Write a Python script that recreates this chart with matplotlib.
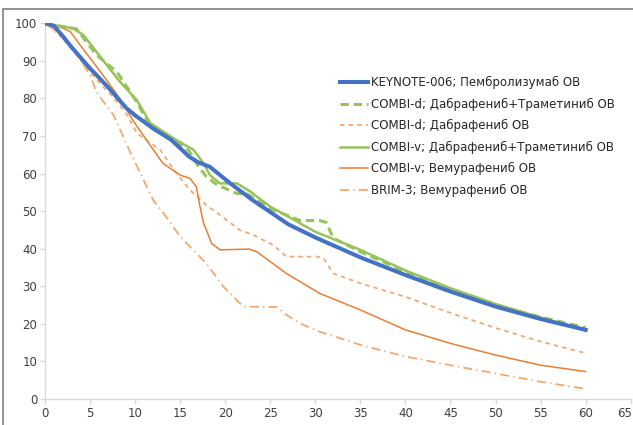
import matplotlib
matplotlib.use('Agg')
import matplotlib.pyplot as plt
import matplotlib.transforms as mtransforms
from matplotlib.patches import Rectangle

# KEYNOTE-006; Pembrolizumab OS
keynote_x = [0, 1, 2, 3, 5, 7, 9, 10, 12, 14, 16, 17, 18.3, 20.5, 23, 27, 30, 35, 40, 45, 50, 55, 60]
keynote_y = [100, 99.3, 96.5, 93.5, 88, 83, 77.5, 75.5, 72, 69, 64.5, 63, 61.8, 57.5, 53, 46.5, 43, 37.7, 33, 28.6, 24.6, 21.3, 18.4]

# COMBI-d; Dabrafenib+Trametinib OS
combid_dt_x = [0, 1, 3.5, 5.7, 8, 9.1, 10.2, 11.7, 13.9, 16, 17, 17.9, 19.1, 21.3, 22.5, 25, 28.3, 30.5, 31.2, 32, 35, 40, 45, 50, 55, 60]
combid_dt_y = [100, 99.5, 98.5, 91.6, 87, 83, 79, 72.5, 69.8, 66, 62, 59.2, 57, 54.7, 54.5, 50.7, 47.5, 47.5, 47, 42.8, 39.2, 33.9, 29.3, 25, 21.8, 19]

# COMBI-d; Dabrafenib OS
combid_d_x = [0, 1.3, 3, 5, 8, 9.1, 10.2, 12.8, 14.6, 16.1, 17.9, 19.4, 21.6, 23.1, 25.3, 26.8, 30.2, 30.9, 32, 35, 40, 45, 50, 55, 60]
combid_d_y = [100, 97.8, 93, 87, 79.1, 75.6, 70.7, 66.3, 60, 55.6, 51.6, 49, 45, 43.7, 41, 37.9, 37.9, 37.5, 33.4, 30.8, 27.2, 22.9, 18.9, 15.3, 12.2]

# COMBI-v; Dabrafenib+Trametinib OS
combiv_dt_x = [0, 2, 3.1, 4.25, 5.4, 6.85, 8.3, 10.2, 11.7, 14.6, 16.5, 17.6, 18.3, 19.4, 21.3, 22.8, 25, 30, 35, 40, 45, 50, 55, 60]
combiv_dt_y = [100, 99.1, 98.7, 96.9, 93.4, 88.9, 84.5, 79.5, 73.4, 68.9, 66.3, 62.7, 59.6, 57.4, 57.4, 55.2, 51.2, 44.5, 39.7, 34.2, 29.5, 25.3, 21.7, 18.2]

# COMBI-v; Vemurafenib OS
combiv_v_x = [0, 2, 2.8, 3.9, 5.4, 6.8, 8.3, 9.8, 11.65, 13.1, 15, 16.1, 16.8, 17.2, 17.6, 18.5, 19.4, 22.7, 23.5, 26.8, 30.5, 35, 40, 45, 50, 55, 60]
combiv_v_y = [100, 98.7, 97.8, 94.2, 89.5, 85, 80, 74, 67.6, 62.7, 59.6, 58.7, 56.5, 51.2, 46.8, 41.4, 39.7, 39.9, 39.2, 33.4, 28.1, 23.7, 18.4, 14.8, 11.7, 9.0, 7.3]

# BRIM-3; Vemurafenib OS
brim_x = [0, 0.55, 2, 3.5, 5, 5.7, 6.5, 7.6, 9.4, 12, 13.9, 15, 17.9, 19.8, 22, 24.9, 25.7, 26.8, 28.3, 30.5, 35, 40, 45, 50, 55, 60]
brim_y = [100, 99.1, 96, 92, 86.2, 81.8, 79.1, 75.6, 66, 53, 47, 43.2, 36.1, 29.9, 24.6, 24.5, 24.5, 22.4, 20.1, 17.9, 14.4, 11.3, 9.0, 6.8, 4.6, 2.7]

labels = [
    'KEYNOTE-006; Пембролизумаб OB',
    'COMBI-d; Дабрафениб+Траметиниб OB',
    'COMBI-d; Дабрафениб OB',
    'COMBI-v; Дабрафениб+Траметиниб OB',
    'COMBI-v; Вемурафениб OB',
    'BRIM-3; Вемурафениб OB',
]

blue = '#4472C4'
green = '#97C45A'
orange = '#ED7D31'
light_orange = '#F5A86C'

plt.rcParams['font.family'] = ['DejaVu Sans']
plt.rcParams['lines.scale_dashes'] = False

fig = plt.figure(figsize=(6.33, 4.25), dpi=100)
ax = fig.add_axes([45 / 633, 1 - 399 / 425, (630.7 - 45) / 633, (399 - 23.3) / 425])

ax.plot(keynote_x, keynote_y, color=blue, lw=2.9, label=labels[0], zorder=5)
ax.plot(combid_dt_x, combid_dt_y, color=green, lw=2.2, dashes=(6, 3.5), label=labels[1], zorder=4)
ax.plot(combid_d_x, combid_d_y, color=light_orange, lw=1.3, dashes=(3.2, 3), label=labels[2], zorder=3)
ax.plot(combiv_dt_x, combiv_dt_y, color=green, lw=1.8, label=labels[3], zorder=4)
ax.plot(combiv_v_x, combiv_v_y, color=orange, lw=1.1, label=labels[4], zorder=3)
ax.plot(brim_x, brim_y, color=light_orange, lw=1.3, dashes=(6.5, 3, 1, 3), label=labels[5], zorder=3)

ax.set_xlim(0, 65)
ax.set_ylim(0, 100)
ax.set_xticks(range(0, 66, 5))
ax.set_yticks(range(0, 101, 10))
for s in ['top', 'right']:
    ax.spines[s].set_visible(False)
for s in ['left', 'bottom']:
    ax.spines[s].set_color('#D9D9D9')
    ax.spines[s].set_linewidth(1)
ax.tick_params(axis='both', colors='#D9D9D9', labelcolor='#404040', labelsize=8.5, length=3.5, width=1, pad=2)

# keep the last x label inside the picture
last = ax.get_xticklabels()[-1]
last.set_transform(last.get_transform() + mtransforms.ScaledTranslation(-6 / 100, 0, fig.dpi_scale_trans))

ax.legend(loc='upper left', bbox_to_anchor=(340 / 633, 1 - 76 / 425), bbox_transform=fig.transFigure,
          frameon=False, fontsize=8.5, handlelength=2.4, handletextpad=0.2, labelspacing=0.72,
          borderpad=0, borderaxespad=0, labelcolor='#262626')

# chart area border
fig.patches.append(Rectangle((3 / 633, -0.1), 1.2, 1 - 9 / 425 + 0.1, transform=fig.transFigure,
                             fill=False, edgecolor='#7F7F7F', lw=1.2))

fig.savefig('out.png', dpi=100)
